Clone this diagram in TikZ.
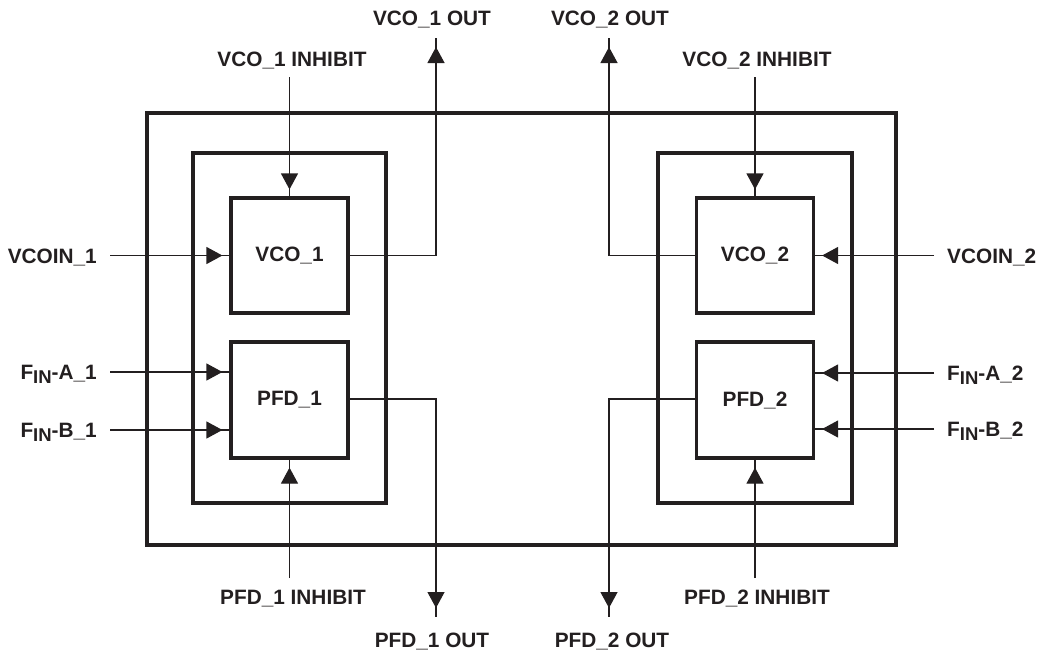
\documentclass[tikz,border=0pt]{standalone}
\usepackage{fontspec}
\setmainfont{Liberation Sans}
\usetikzlibrary{arrows.meta,decorations.markings}
\definecolor{ink}{HTML}{231F20}
\newcommand{\fin}[1]{F\raisebox{-4pt}{\fontsize{18.5}{18}\selectfont IN}-#1}
\begin{document}
\begin{tikzpicture}[x=1pt,y=-1pt,
  bigbox/.style={draw=ink,line width=3.6pt,inner sep=0pt,minimum width=#1},
  blk/.style={draw=ink,line width=3.2pt,inner sep=0pt,minimum width=117pt,minimum height=115pt,
     font=\fontsize{20.8}{24}\selectfont\bfseries,text=ink},
  lbl/.style={inner sep=0pt,font=\fontsize{20.8}{24}\selectfont\bfseries,text=ink},
  conn/.style={draw=ink,line width=1.2pt},
  tipat/.style={postaction={decorate,decoration={markings,
     mark=at position -#1 with {\arrow[ink]{Triangle[length=16pt,width=17pt]}}}}}
]
\useasboundingbox (0,0) rectangle (1043,656);
% boxes
\node[bigbox=749pt,minimum height=432pt] (outer) at (521.5,329) {};
\node[bigbox=193pt,minimum height=350pt] (inner1) at (289.5,328) {};
\node[bigbox=194pt,minimum height=350pt] (inner2) at (755,328) {};
\node[blk] (vco1) at (289.5,255.5) {VCO\_1};
\node[blk,minimum height=116pt] (pfd1) at (289.5,400) {PFD\_1};
\node[blk] (vco2) at (755,255.5) {VCO\_2};
\node[blk,minimum height=116pt] (pfd2) at (755,400) {PFD\_2};
% labels
\node[lbl,anchor=base] (lvi1) at (292,66.5) {VCO\_1 INHIBIT};
\node[lbl,anchor=base] (lvo1) at (432,25.5) {VCO\_1 OUT};
\node[lbl,anchor=base east] (lvin1) at (97,263.5) {VCOIN\_1};
\node[lbl,anchor=base east] (lfa1) at (97,379.5) {\fin{A\_1}};
\node[lbl,anchor=base east] (lfb1) at (97,437.5) {\fin{B\_1}};
\node[lbl,anchor=base] (lpi1) at (293,604.5) {PFD\_1 INHIBIT};
\node[lbl,anchor=base] (lpo1) at (432,647.5) {PFD\_1 OUT};
\node[lbl,anchor=base] (lvi2) at (757,66.5) {VCO\_2 INHIBIT};
\node[lbl,anchor=base] (lvo2) at (610,25.5) {VCO\_2 OUT};
\node[lbl,anchor=base west] (lvin2) at (947,263.5) {VCOIN\_2};
\node[lbl,anchor=base west] (lfa2) at (947,380.5) {\fin{A\_2}};
\node[lbl,anchor=base west] (lfb2) at (947,436.5) {\fin{B\_2}};
\node[lbl,anchor=base] (lpi2) at (757,604.5) {PFD\_2 INHIBIT};
\node[lbl,anchor=base] (lpo2) at (612,647.5) {PFD\_2 OUT};
% free ends
\coordinate (vi1) at (289.5,77);
\coordinate (vin1) at (110,255.5);
\coordinate (fa1) at (110,372);
\coordinate (fb1) at (110,430);
\coordinate (vo1) at (436,38);
\coordinate (po1) at (436,617);
\coordinate (pi1) at (289.5,578);
\coordinate (vi2) at (755,77);
\coordinate (vin2) at (934,255.5);
\coordinate (fa2) at (934,373);
\coordinate (fb2) at (934,429);
\coordinate (vo2) at (609,38);
\coordinate (po2) at (609,617);
\coordinate (pi2) at (755,578);
% connectors left
\draw[conn,tipat=7pt] (vi1) -- (vco1.north);
\draw[conn,tipat=7pt] (vin1) -- (vco1.west);
\draw[conn,tipat=7pt] (fa1) -- (pfd1.west |- fa1);
\draw[conn,tipat=7pt] (fb1) -- (pfd1.west |- fb1);
\draw[conn,tipat=9pt] (vco1.east) -| (vo1);
\draw[conn,tipat=9pt] (pfd1.east |- 0,399) -| (po1);
\draw[conn,tipat=8pt] (pi1) -- (pfd1.south);
% connectors right
\draw[conn,tipat=7pt] (vi2) -- (vco2.north);
\draw[conn,tipat=7pt] (vin2) -- (vco2.east);
\draw[conn,tipat=7pt] (fa2) -- (pfd2.east |- fa2);
\draw[conn,tipat=7pt] (fb2) -- (pfd2.east |- fb2);
\draw[conn,tipat=9pt] (vco2.west) -| (vo2);
\draw[conn,tipat=9pt] (pfd2.west |- 0,399) -| (po2);
\draw[conn,tipat=8pt] (pi2) -- (pfd2.south);
\end{tikzpicture}
\end{document}
